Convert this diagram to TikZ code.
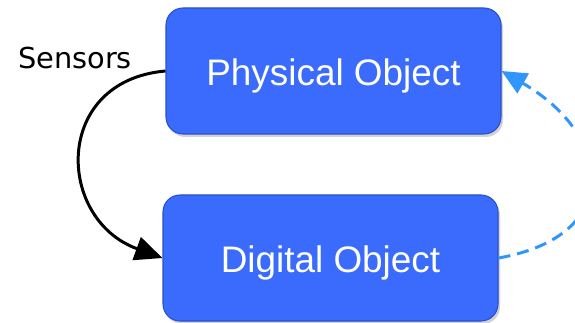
\documentclass[tikz,border=0pt]{standalone}
\usepackage{fontspec}
\setmainfont{Liberation Sans}
\newfontfamily\labelfont{DejaVu Sans}
\usetikzlibrary{arrows.meta,shadows}

\definecolor{objblue}{RGB}{58,107,252}
\definecolor{objedge}{RGB}{40,80,205}
\definecolor{linkblue}{RGB}{48,150,255}

\begin{document}
\begin{tikzpicture}[
    objbox/.style={rectangle, rounded corners=0.34cm, fill=objblue, draw=objedge,
        line width=0.6pt, minimum width=6.7cm, minimum height=2.52cm,
        text=white, font=\fontsize{21}{25}\selectfont,
        text height=18pt, text depth=1.3pt,
        drop shadow={shadow xshift=0.04cm, shadow yshift=-0.06cm, fill=black!35}},
    sensearrow/.style={line width=1.7pt, -{Triangle[length=0.55cm,width=0.48cm]}},
    feedarrow/.style={line width=1.7pt, linkblue, dash pattern=on 0.24cm off 0.14cm,
        -{Triangle[length=0.5cm,width=0.45cm]}}
  ]
%    \draw[black,thin] (0.0,0.0) grid (11.5,6.44);
    \useasboundingbox (0,0) rectangle (11.5,6.44);

    % the two objects
    \node[objbox] (physical) at (6.67,5.02) {Physical Object};
    \node[objbox] (digital)  at (6.61,1.28) {Digital Object};

    % sensing path
    \node[font=\labelfont\fontsize{16.4}{20}\selectfont] (sensors) at (1.5,5.27) {Sensors};
    \draw[sensearrow] (physical.west) to[out=185,in=160,looseness=1.55] (digital.west);

    % back to the physical object
    \draw[feedarrow] (digital.east) to[out=10,in=-30,looseness=1.75] (physical.east);

  \end{tikzpicture}
\end{document}
